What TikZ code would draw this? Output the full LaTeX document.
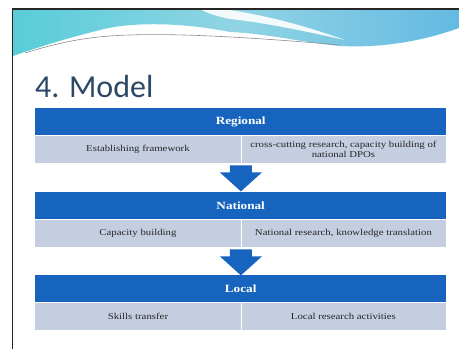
\documentclass[tikz,border=0pt]{standalone}
\usepackage{fontspec}
\setmainfont{Liberation Serif}
\newfontfamily\tabfont[FakeStretch=1.2]{Liberation Serif}
\newfontfamily\titlefont{Carlito}
\usetikzlibrary{calc}
\definecolor{hdrblue}{RGB}{22,100,190}
\definecolor{rowgray}{RGB}{197,205,225}
\definecolor{titleblue}{RGB}{44,72,102}
\definecolor{tealA}{RGB}{88,205,216}
\definecolor{tealB}{RGB}{145,212,228}
\definecolor{tealC}{RGB}{100,186,226}
\begin{document}
\begin{tikzpicture}[x=1pt,y=-1pt,
  hdr/.style={fill=hdrblue, draw=none, minimum width=411pt, minimum height=27pt,
    inner sep=0pt, anchor=north west, text=white,
    font=\tabfont\bfseries\fontsize{11}{11}\selectfont},
  cell/.style={fill=rowgray, draw=none, minimum width=205.5pt, minimum height=28pt,
    inner sep=0pt, anchor=north west, text=black!85, align=center,
    font=\tabfont\fontsize{9}{9.6}\selectfont},
  bluearrow/.style={fill=hdrblue},
  divider/.style={draw=white, line width=0.8pt},
  frameline/.style={draw=black!85, line width=1.4pt}]
\useasboundingbox (0,0) rectangle (459,349);
\fill[white] (0,0) rectangle (459,349);
% decorative top band
\shade[left color=tealA, right color=tealC, middle color=tealB]
  (13,9) -- (459,9) -- (459,28)
  .. controls (420,42) and (380,48) .. (340,46)
  .. controls (300,42) and (270,34) .. (230,32)
  .. controls (180,22) and (130,22) .. (100,30)
  .. controls (60,40) and (30,50) .. (13,56) -- cycle;
\fill[white, opacity=0.9] (200,9) -- (222,9)
  .. controls (260,14) and (300,24) .. (345,40)
  .. controls (300,30) and (260,22) .. (230,19)
  .. controls (215,16) and (205,12) .. (200,9) -- cycle;
\draw[black!45, line width=0.6pt] (25,53)
  .. controls (60,42) and (90,36) .. (130,35)
  .. controls (180,33) and (260,38) .. (340,45);
\draw[frameline] (12.5,349) -- (12.5,9) -- (459,9);
% title
\node[anchor=base west, font=\titlefont\fontsize{32}{32}\selectfont,
  text=titleblue, inner sep=0pt] (title) at (35,97) {4. Model};
% Regional
\node[hdr] (reg) at (35,108) {Regional};
\node[cell] (reg1) at (35,135) {Establishing framework};
\node[cell] (reg2) at (240.5,135) {cross-cutting research, capacity building of\\national DPOs};
\draw[divider] (reg1.north east) -- (reg1.south east);
\draw[draw=white, line width=0.5pt] (reg.south west) -- (reg.south east);
% National
\node[hdr] (nat) at (35,192) {National};
\node[cell] (nat1) at (35,219) {Capacity building};
\node[cell] (nat2) at (240.5,219) {National research, knowledge translation};
\draw[divider] (nat1.north east) -- (nat1.south east);
\draw[draw=white, line width=0.5pt] (nat.south west) -- (nat.south east);
% Local
\node[hdr] (loc) at (35,275) {Local};
\node[cell] (loc1) at (35,302) {Skills transfer};
\node[cell] (loc2) at (240.5,302) {Local research activities};
\draw[divider] (loc1.north east) -- (loc1.south east);
\draw[draw=white, line width=0.5pt] (loc.south west) -- (loc.south east);
% arrows
\coordinate (a1) at (reg1.south east);
\coordinate (a2) at (nat1.south east);
\foreach \a in {a1,a2}{
  \fill[bluearrow] ($(\a)+(-11,2)$) -- ($(\a)+(11,2)$) -- ($(\a)+(11,9)$)
    -- ($(\a)+(21,9)$) -- ($(\a)+(0,28)$) -- ($(\a)+(-21,9)$)
    -- ($(\a)+(-11,9)$) -- cycle;
}
\end{tikzpicture}
\end{document}
